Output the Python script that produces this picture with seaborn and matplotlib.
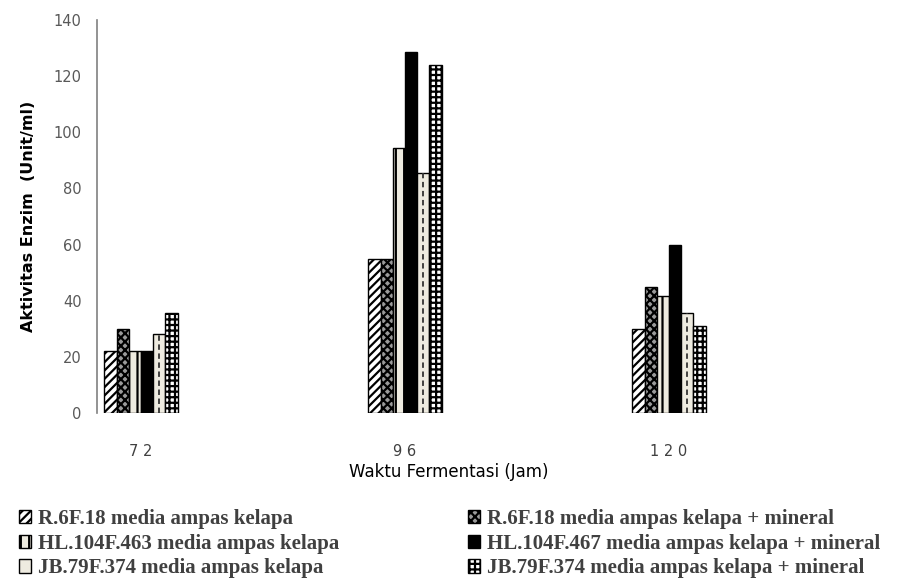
import numpy as np
import pandas as pd
import seaborn as sns
import matplotlib.pyplot as plt

# Data
waktu = ['72', '96', '120']
series = ['R.6F.18 media ampas kelapa',
          'R.6F.18 media ampas kelapa + mineral',
          'HL.104F.463 media ampas kelapa',
          'HL.104F.467 media ampas kelapa + mineral',
          'JB.79F.374 media ampas kelapa',
          'JB.79F.374 media ampas kelapa + mineral']
r6_ampas = [22, 55, 30]
r6_mineral = [30, 55, 45]
hl463_ampas = [22, 94.5, 41.5]
hl467_mineral = [22, 128.5, 60]
jb_ampas = [28, 85.5, 35.5]
jb_mineral = [35.5, 124, 31]

values = [r6_ampas, r6_mineral, hl463_ampas, hl467_mineral, jb_ampas, jb_mineral]
rows = []
for name, vals in zip(series, values):
    for w, v in zip(waktu, vals):
        rows.append({'Waktu': w, 'Aktivitas': v, 'Isolat': name})
df = pd.DataFrame(rows)

sns.set_style('white')
plt.rcParams['hatch.linewidth'] = 1.6

fig = plt.figure(figsize=(8.97, 5.79), dpi=100)
ax = fig.add_axes([0.108, 0.2867, 0.785, 0.679])

ax = sns.barplot(data=df, x='Waktu', y='Aktivitas', hue='Isolat', order=waktu,
                 hue_order=series, width=0.277, ax=ax, legend=False,
                 edgecolor='black', linewidth=1.0)

# fill and hatch for each series (black/white print style)
styles = [
    ('white', '////'),
    ('#9a9a9a', 'xxxx'),
    ('#eeebe0', '||'),
    ('black', ''),
    ('#eeebe0', ''),
    ('white', '+++'),
]
for cont, (fc, h) in zip(ax.containers, styles):
    for bar in cont:
        bar.set_facecolor(fc)
        bar.set_hatch(h)
        bar.set_edgecolor('black')

# dashed centre line on the JB.79F.374 bars
for bar in ax.containers[4]:
    xc = bar.get_x() + bar.get_width() / 2
    ax.plot([xc, xc], [0, bar.get_height()], color='#333333', lw=1.3,
            ls=(0, (3, 2)), zorder=bar.get_zorder() + 0.1)

ax.set_xlim(-0.167, 2.5)
ax.set_ylim(0, 140)
ax.set_yticks(range(0, 141, 20))
ax.tick_params(axis='y', length=0, pad=11, labelsize=10.5, labelcolor='#595959')
ax.tick_params(axis='x', length=0, pad=22, labelsize=10.5, labelcolor='#404040')
ax.set_xticks(range(3))
ax.set_xticklabels([' '.join(w) for w in waktu])

for s in ['top', 'right', 'bottom']:
    ax.spines[s].set_visible(False)
ax.spines['left'].set_color('#808080')
ax.spines['left'].set_linewidth(1.2)

ax.set_ylabel('Aktivitas Enzim  (Unit/ml)', fontsize=11.5, fontweight='bold',
              color='black', labelpad=13)
ax.set_xlabel('Waktu Fermentasi (Jam)', fontsize=12, color='black', labelpad=3)

# legend below the chart: two columns, row-major order
handles = [c.patches[0] for c in ax.containers]
order = [0, 2, 4, 1, 3, 5]
leg = fig.legend([handles[i] for i in order], [series[i] for i in order],
                 loc='upper left', bbox_to_anchor=(0.0, 0.153), ncol=2,
                 frameon=False, handlelength=0.6, handleheight=0.6,
                 handletextpad=0.3, columnspacing=6.2, labelspacing=0.22,
                 prop={'family': 'Liberation Serif', 'weight': 'bold', 'size': 15})
for t in leg.get_texts():
    t.set_color('#404040')

fig.savefig('out.png', dpi=100)
